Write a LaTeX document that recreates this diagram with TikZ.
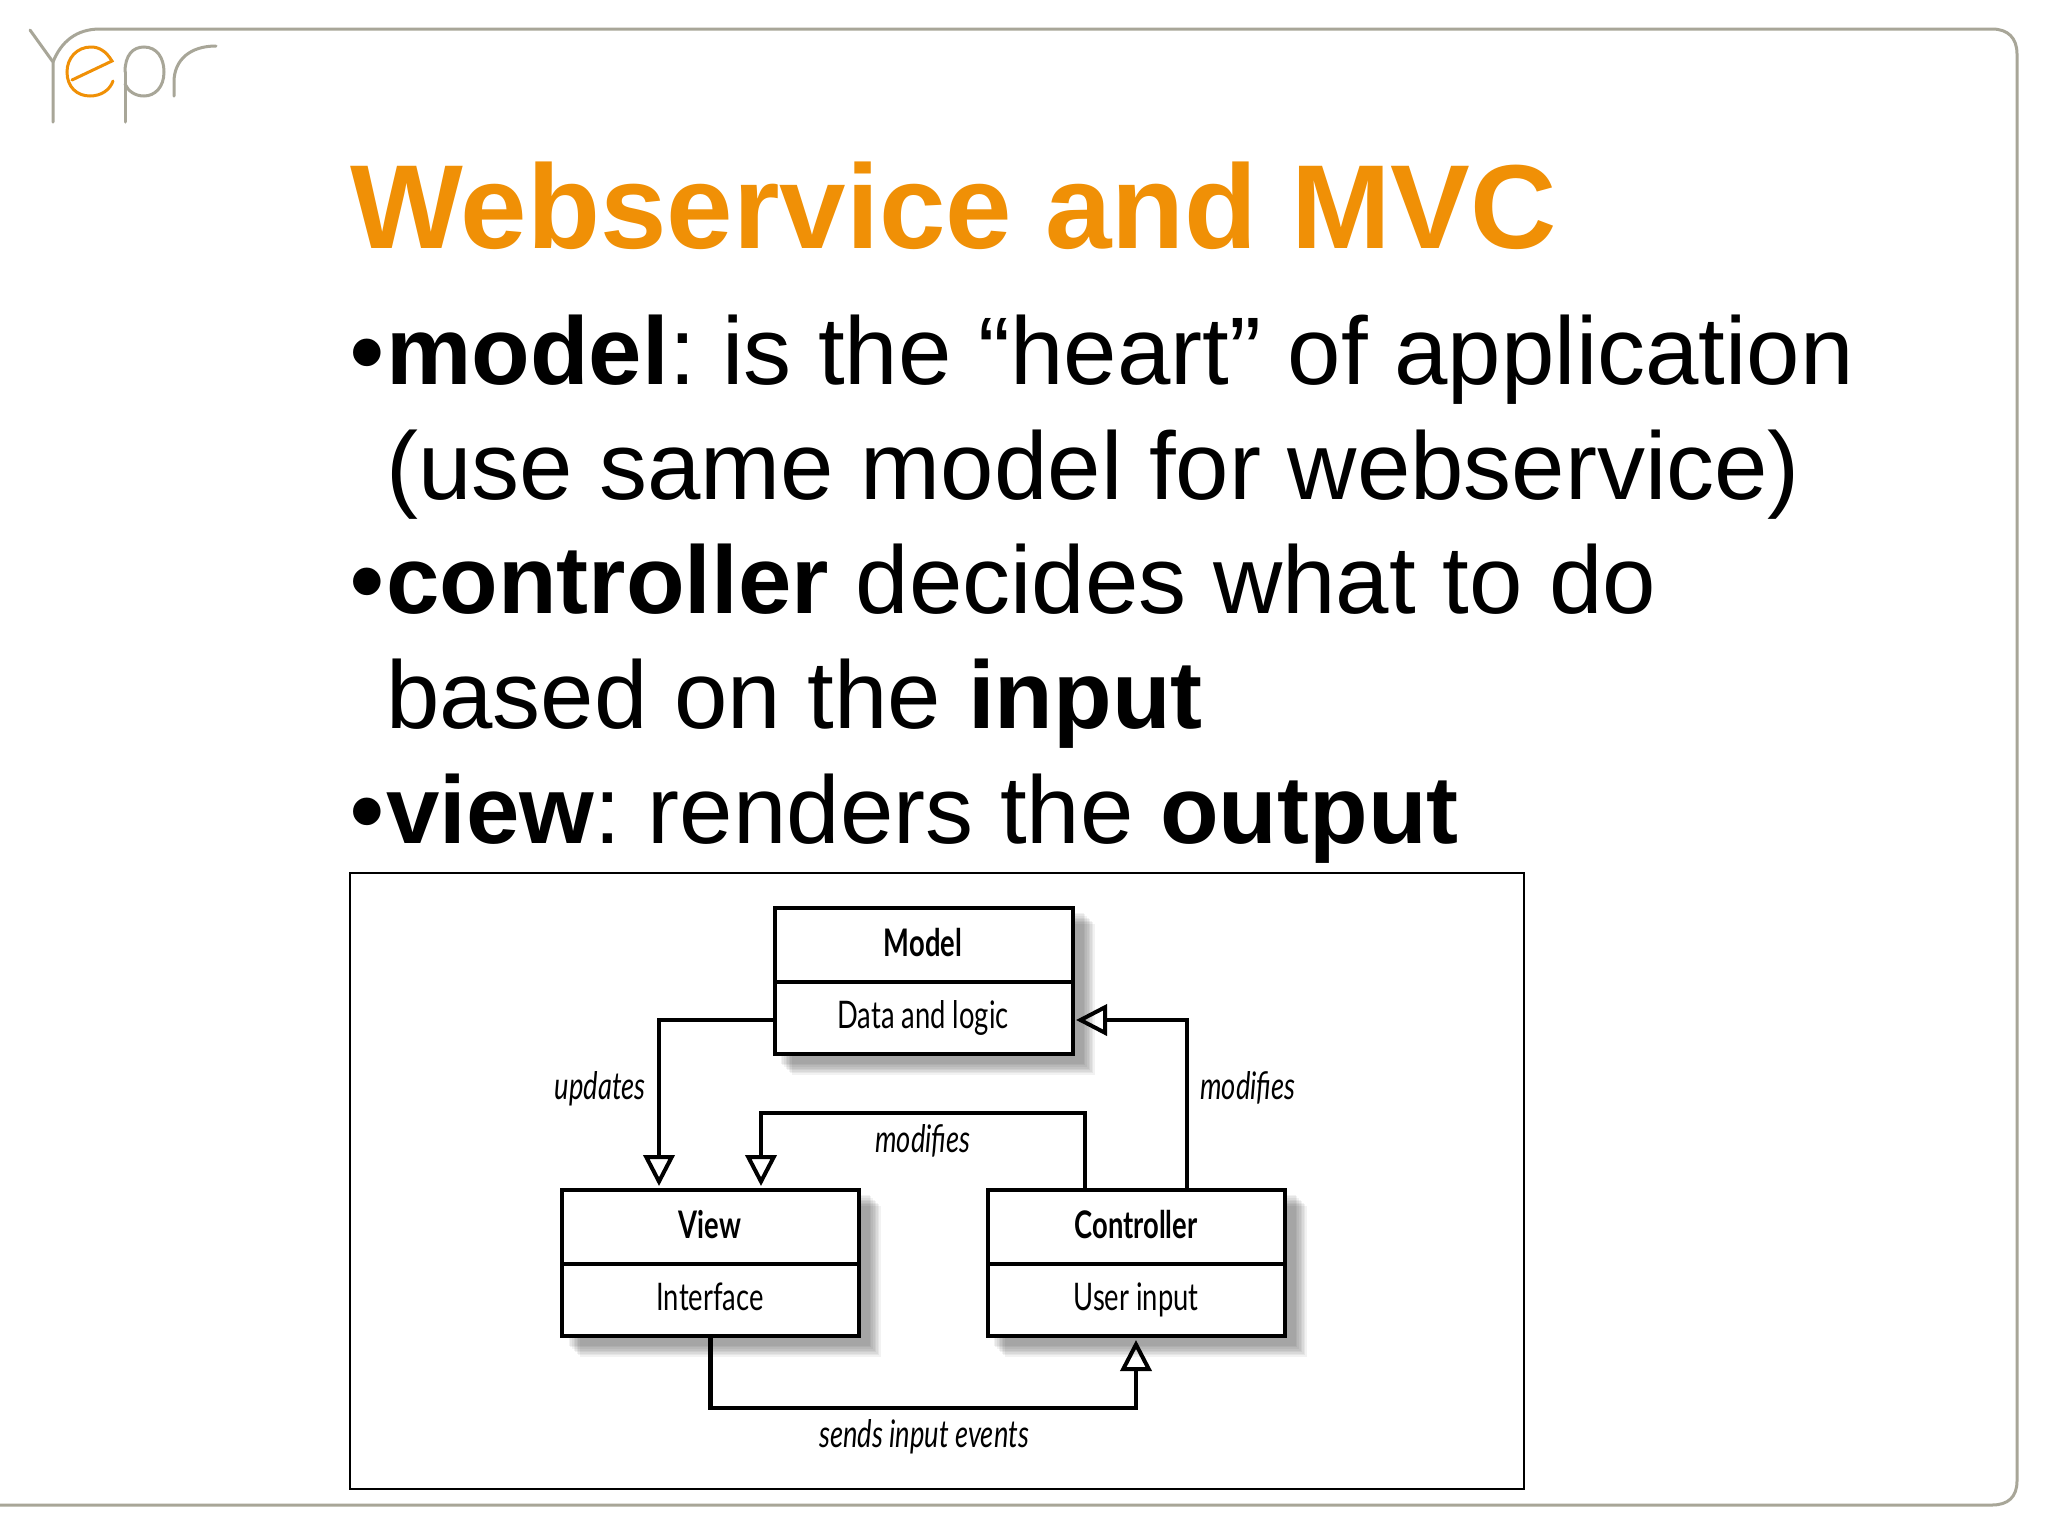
\documentclass[tikz,border=0pt]{standalone}
\usepackage{fontspec}
\setmainfont{Liberation Sans}
\newfontfamily\condfont[FakeStretch=0.72,ItalicFeatures={FakeStretch=0.72},BoldFeatures={FakeStretch=0.72}]{Lato}
\usetikzlibrary{arrows.meta,positioning}
\frenchspacing
\definecolor{frameC}{HTML}{A8A698}
\definecolor{orangeC}{HTML}{F09006}
\tikzset{
  bodytext/.style={anchor=base west,inner sep=0pt,font=\fontsize{96}{96}\selectfont\frenchspacing},
  titletext/.style={anchor=base west,inner sep=0pt,text=orangeC,font=\fontsize{119.5}{119.5}\selectfont\bfseries},
  umlbox/.style={draw=black,line width=4.5pt,fill=white,inner sep=0pt,outer sep=0pt,anchor=north west},
  head/.style={anchor=base,inner sep=0pt,font=\fontsize{38}{38}\selectfont\condfont\bfseries},
  sub/.style={anchor=base,inner sep=0pt,font=\fontsize{38}{38}\selectfont\condfont},
  rel/.style={inner sep=0pt,font=\fontsize{38}{38}\selectfont\condfont\itshape},
  conn/.style={draw=black,line width=4.5pt,-{Triangle[open,length=31pt,width=31pt,line width=4pt]}},
  logoG/.style={draw=frameC,line width=3pt,line cap=round},
  logoO/.style={draw=orangeC,line width=3pt,line cap=round}
}
\newcommand{\softshadow}[4]{%
  \foreach \k in {0,1,...,7}{%
    \fill[black,opacity=0.05] ({#1+18-\k*1.6},{#2+17-\k*1.6}) rectangle ({#3+22-\k*1.6},{#4+22-\k*1.6});
  }%
}
\newcommand{\bul}{•\hspace{2.5pt}}
\begin{document}
\begin{tikzpicture}[x=1pt,y=-1pt]
\useasboundingbox (0,0) rectangle (2048,1535);
\fill[white] (0,0) rectangle (2048,1535);
% slide frame
\draw[frameC,line width=3pt] (53,62) .. controls (61,42) and (76,29) .. (100,29) -- (1992,29)
  .. controls (2008,29) and (2017,38) .. (2017,54) -- (2017,1481)
  .. controls (2017,1497) and (2008,1505) .. (1992,1505) -- (0,1505);
% logo
\draw[logoG] (30,30) -- (53,62) -- (53,122);
\draw[logoG] (125,122) -- (125,72);
\draw[logoG] (125,72) .. controls (125,55) and (133,47) .. (144,47) .. controls (157,47) and (164,58) .. (164,72)
  .. controls (164,87) and (155,96) .. (144,96) .. controls (135,96) and (128,91) .. (125,84);
\draw[logoG] (174,96) -- (174,82) .. controls (174,60) and (190,46) .. (216,46);
\draw[logoO] (72,80) -- (112,61) .. controls (106,51) and (99,47) .. (91,47)
  .. controls (77,47) and (67,58) .. (67,72) .. controls (67,87) and (77,96) .. (90,96)
  .. controls (101,96) and (110,90) .. (113,81);
% text
\node[titletext] (title) at (350,248) {Webservice and MVC};
\node[bodytext] (l1) at (350,384) {\textbf{\bul model}: is the “heart” of application};
\node[bodytext] (l2) at (386,499) {(use same model for webservice)};
\node[bodytext] (l3) at (350,613) {\textbf{\bul controller} decides what to do};
\node[bodytext] (l4) at (386,728) {based on the \textbf{input}};
\node[bodytext] (l5) at (350,843) {\textbf{\bul view}: renders the \textbf{output}};
% picture frame
\draw[black,line width=2pt] (350,873) rectangle (1524,1489);
% shadows
\softshadow{774}{907}{1073}{1053}
\softshadow{562}{1189}{859}{1335}
\softshadow{987}{1189}{1285}{1335}
% boxes
\node[umlbox,minimum width=298pt,minimum height=74pt] (modelT) at (775,908) {};
\node[umlbox,minimum width=298pt,minimum height=72pt] (modelB) at (775,982) {};
\node[umlbox,minimum width=297pt,minimum height=74pt] (viewT) at (562,1190) {};
\node[umlbox,minimum width=297pt,minimum height=72pt] (viewB) at (562,1264) {};
\node[umlbox,minimum width=297pt,minimum height=74pt] (ctrlT) at (988,1190) {};
\node[umlbox,minimum width=297pt,minimum height=72pt] (ctrlB) at (988,1264) {};
\node[head] (tm) at (923,956) {Model};
\node[sub] (sm) at (923,1028) {Data and logic};
\node[head] (tv) at (710,1238) {View};
\node[sub] (sv) at (710,1310) {Interface};
\node[head] (tc) at (1136,1238) {Controller};
\node[sub] (sc) at (1136,1310) {User input};
% connector ends
\coordinate (uEnd) at (659,1186);
\coordinate (m2End) at (761,1186);
\coordinate (m1End) at (1076,1020);
\coordinate (sEnd) at (1136,1340);
\coordinate (m2Start) at (1085,1190);
\coordinate (m1Start) at (1187,1190);
% connectors
\draw[conn] (modelB.west |- m1End) -| (uEnd);
\draw[conn] (m2Start) |- (761,1113) -- (m2End);
\draw[conn] (m1Start) |- (m1End);
\draw[conn] (viewB.south) |- (1136,1408) -- (sEnd);
% labels
\node[rel] (lu) at (600,1089) {updates};
\node[rel] (lm1) at (1248,1088) {modifies};
\node[rel] (lm2) at (923,1141) {modifies};
\node[rel] (ls) at (924,1437) {sends input events};
\end{tikzpicture}
\end{document}
